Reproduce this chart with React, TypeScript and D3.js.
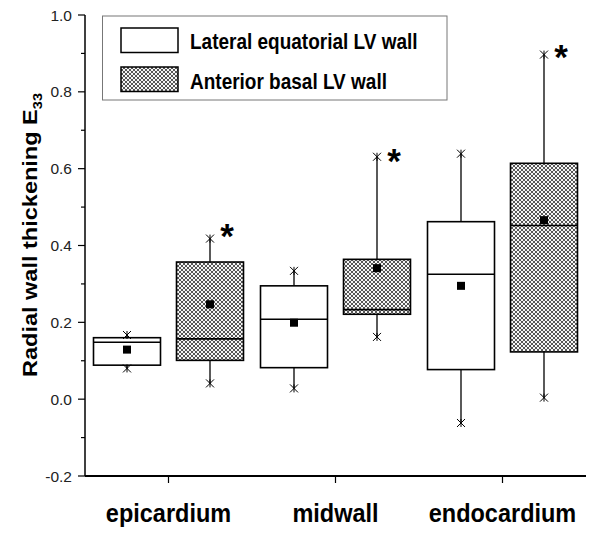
import React from "react";
import * as d3 from "d3";

const categories = ["epicardium", "midwall", "endocardium"];
const seriesNames = ["Lateral equatorial LV wall", "Anterior basal LV wall"];

// Lateral equatorial LV wall
const latMin = [0.08, 0.028, -0.062];
const latQ1 = [0.0885, 0.082, 0.077];
const latMedian = [0.148, 0.208, 0.325];
const latQ3 = [0.16, 0.295, 0.462];
const latMax = [0.167, 0.334, 0.639];
const latMean = [0.129, 0.199, 0.295];

// Anterior basal LV wall
const antMin = [0.041, 0.162, 0.004];
const antQ1 = [0.101, 0.221, 0.123];
const antMedian = [0.157, 0.233, 0.452];
const antQ3 = [0.357, 0.364, 0.614];
const antMax = [0.418, 0.631, 0.897];
const antMean = [0.247, 0.341, 0.466];

// significance stars (level in data units)
const starLevels = [0.446, 0.641, 0.911];

const yTicks = [-0.2, 0, 0.2, 0.4, 0.6, 0.8, 1.0];
const yMinorTicks = [-0.1, 0.1, 0.3, 0.5, 0.7, 0.9];

const W = 600;
const H = 534;
const FONT = "'Liberation Sans', Arial, Helvetica, sans-serif";

export default function App() {
  const x = d3.scaleBand<string>().domain(categories).range([85, 586]);
  const y = d3.scaleLinear().domain([-0.2, 1.0]).range([476, 15]);
  const sub = d3.scalePoint<number>().domain([0, 1]).range([-41.5, 41.5]);
  const boxW = 67;

  const series = [
    { min: latMin, q1: latQ1, med: latMedian, q3: latQ3, max: latMax, mean: latMean, fill: "#ffffff" },
    { min: antMin, q1: antQ1, med: antMedian, q3: antQ3, max: antMax, mean: antMean, fill: "url(#hatch)" },
  ];

  const cap = (cx: number, cy: number, key: string) => (
    <g key={key} stroke="#000" strokeWidth={1}>
      <line x1={cx - 4} y1={cy - 4} x2={cx + 4} y2={cy + 4} />
      <line x1={cx - 4} y1={cy + 4} x2={cx + 4} y2={cy - 4} />
      <line x1={cx} y1={cy - 4} x2={cx} y2={cy + 4} />
    </g>
  );

  return (
    <svg width={W} height={H} style={{ position: "absolute", left: 0, top: 0, background: "#fff" }} fontFamily={FONT}>
      <defs>
        <pattern id="hatch" patternUnits="userSpaceOnUse" width={4} height={4}>
          <rect width={4} height={4} fill="#f6f6f6" />
          <path d="M0,0 L4,4 M4,0 L0,4" stroke="#3a3a3a" strokeWidth={0.85} />
        </pattern>
      </defs>
      <rect width={W} height={H} fill="#fff" />

      {/* y axis */}
      <line x1={85} y1={y(1.0)} x2={85} y2={y(-0.2)} stroke="#000" strokeWidth={1.5} />
      {yTicks.map((t) => (
        <g key={"yt" + t}>
          <line x1={78} x2={85} y1={y(t)} y2={y(t)} stroke="#000" strokeWidth={1.2} />
          <text x={72} y={y(t)} dy="0.36em" textAnchor="end" fontSize={15.5} fill="#222">
            {d3.format(".1f")(t).replace("−", "-")}
          </text>
        </g>
      ))}
      {yMinorTicks.map((t) => (
        <line key={"ym" + t} x1={81} x2={85} y1={y(t)} y2={y(t)} stroke="#000" strokeWidth={1.2} />
      ))}

      {/* x axis */}
      <line x1={85} y1={y(-0.2)} x2={586} y2={y(-0.2)} stroke="#000" strokeWidth={1.8} />
      {categories.map((c) => {
        const cx = (x(c) as number) + x.bandwidth() / 2;
        return (
          <g key={"xt" + c}>
            <line x1={cx} x2={cx} y1={y(-0.2)} y2={y(-0.2) + 7} stroke="#000" strokeWidth={1.2} />
            <text
              transform={`translate(${cx},522) scale(1,1.1)`}
              textAnchor="middle"
              fontSize={23.5}
              fontWeight="bold"
              fill="#000"
            >
              {c}
            </text>
          </g>
        );
      })}

      {/* y title */}
      <text
        transform={`translate(37,${235}) scale(1,1.12) rotate(-90)`}
        textAnchor="middle"
        fontSize={21}
        fontWeight="bold"
        fill="#000"
      >
        Radial wall thickening E
        <tspan fontSize={13} dy={5}>33</tspan>
      </text>

      {/* boxes */}
      {series.map((s, si) =>
        categories.map((c, ci) => {
          const cx = (x(c) as number) + x.bandwidth() / 2 + (sub(si) as number);
          return (
            <g key={`b${si}-${ci}`}>
              <line x1={cx} x2={cx} y1={y(s.max[ci])} y2={y(s.q3[ci])} stroke="#000" strokeWidth={1.3} />
              <line x1={cx} x2={cx} y1={y(s.q1[ci])} y2={y(s.min[ci])} stroke="#000" strokeWidth={1.3} />
              <rect
                x={cx - boxW / 2}
                y={y(s.q3[ci])}
                width={boxW}
                height={y(s.q1[ci]) - y(s.q3[ci])}
                fill={s.fill}
                stroke="#000"
                strokeWidth={1.6}
              />
              <line x1={cx - boxW / 2} x2={cx + boxW / 2} y1={y(s.med[ci])} y2={y(s.med[ci])} stroke="#000" strokeWidth={1.6} />
              <rect x={cx - 4} y={y(s.mean[ci]) - 4} width={8} height={8} fill="#000" />
              {cap(cx, y(s.max[ci]), `cmax${si}${ci}`)}
              {cap(cx, y(s.min[ci]), `cmin${si}${ci}`)}
            </g>
          );
        })
      )}

      {/* stars */}
      {categories.map((c, ci) => {
        const cx = (x(c) as number) + x.bandwidth() / 2 + (sub(1) as number) + 17;
        return (
          <text key={"star" + c} x={cx} y={y(starLevels[ci]) + 20} textAnchor="middle" fontSize={35} fontWeight="bold" fill="#000">
            *
          </text>
        );
      })}

      {/* legend */}
      <rect x={102.5} y={16} width={344.5} height={84} fill="#fff" stroke="#777" strokeWidth={1} />
      {seriesNames.map((n, i) => (
        <g key={"lg" + i}>
          <rect x={121} y={28 + i * 39} width={57} height={24.5} fill={series[i].fill} stroke="#000" strokeWidth={1.5} />
          <text transform={`translate(190,${49 + i * 40}) scale(1,1.12)`} fontSize={19} fontWeight="bold" fill="#000">
            {n}
          </text>
        </g>
      ))}
    </svg>
  );
}
